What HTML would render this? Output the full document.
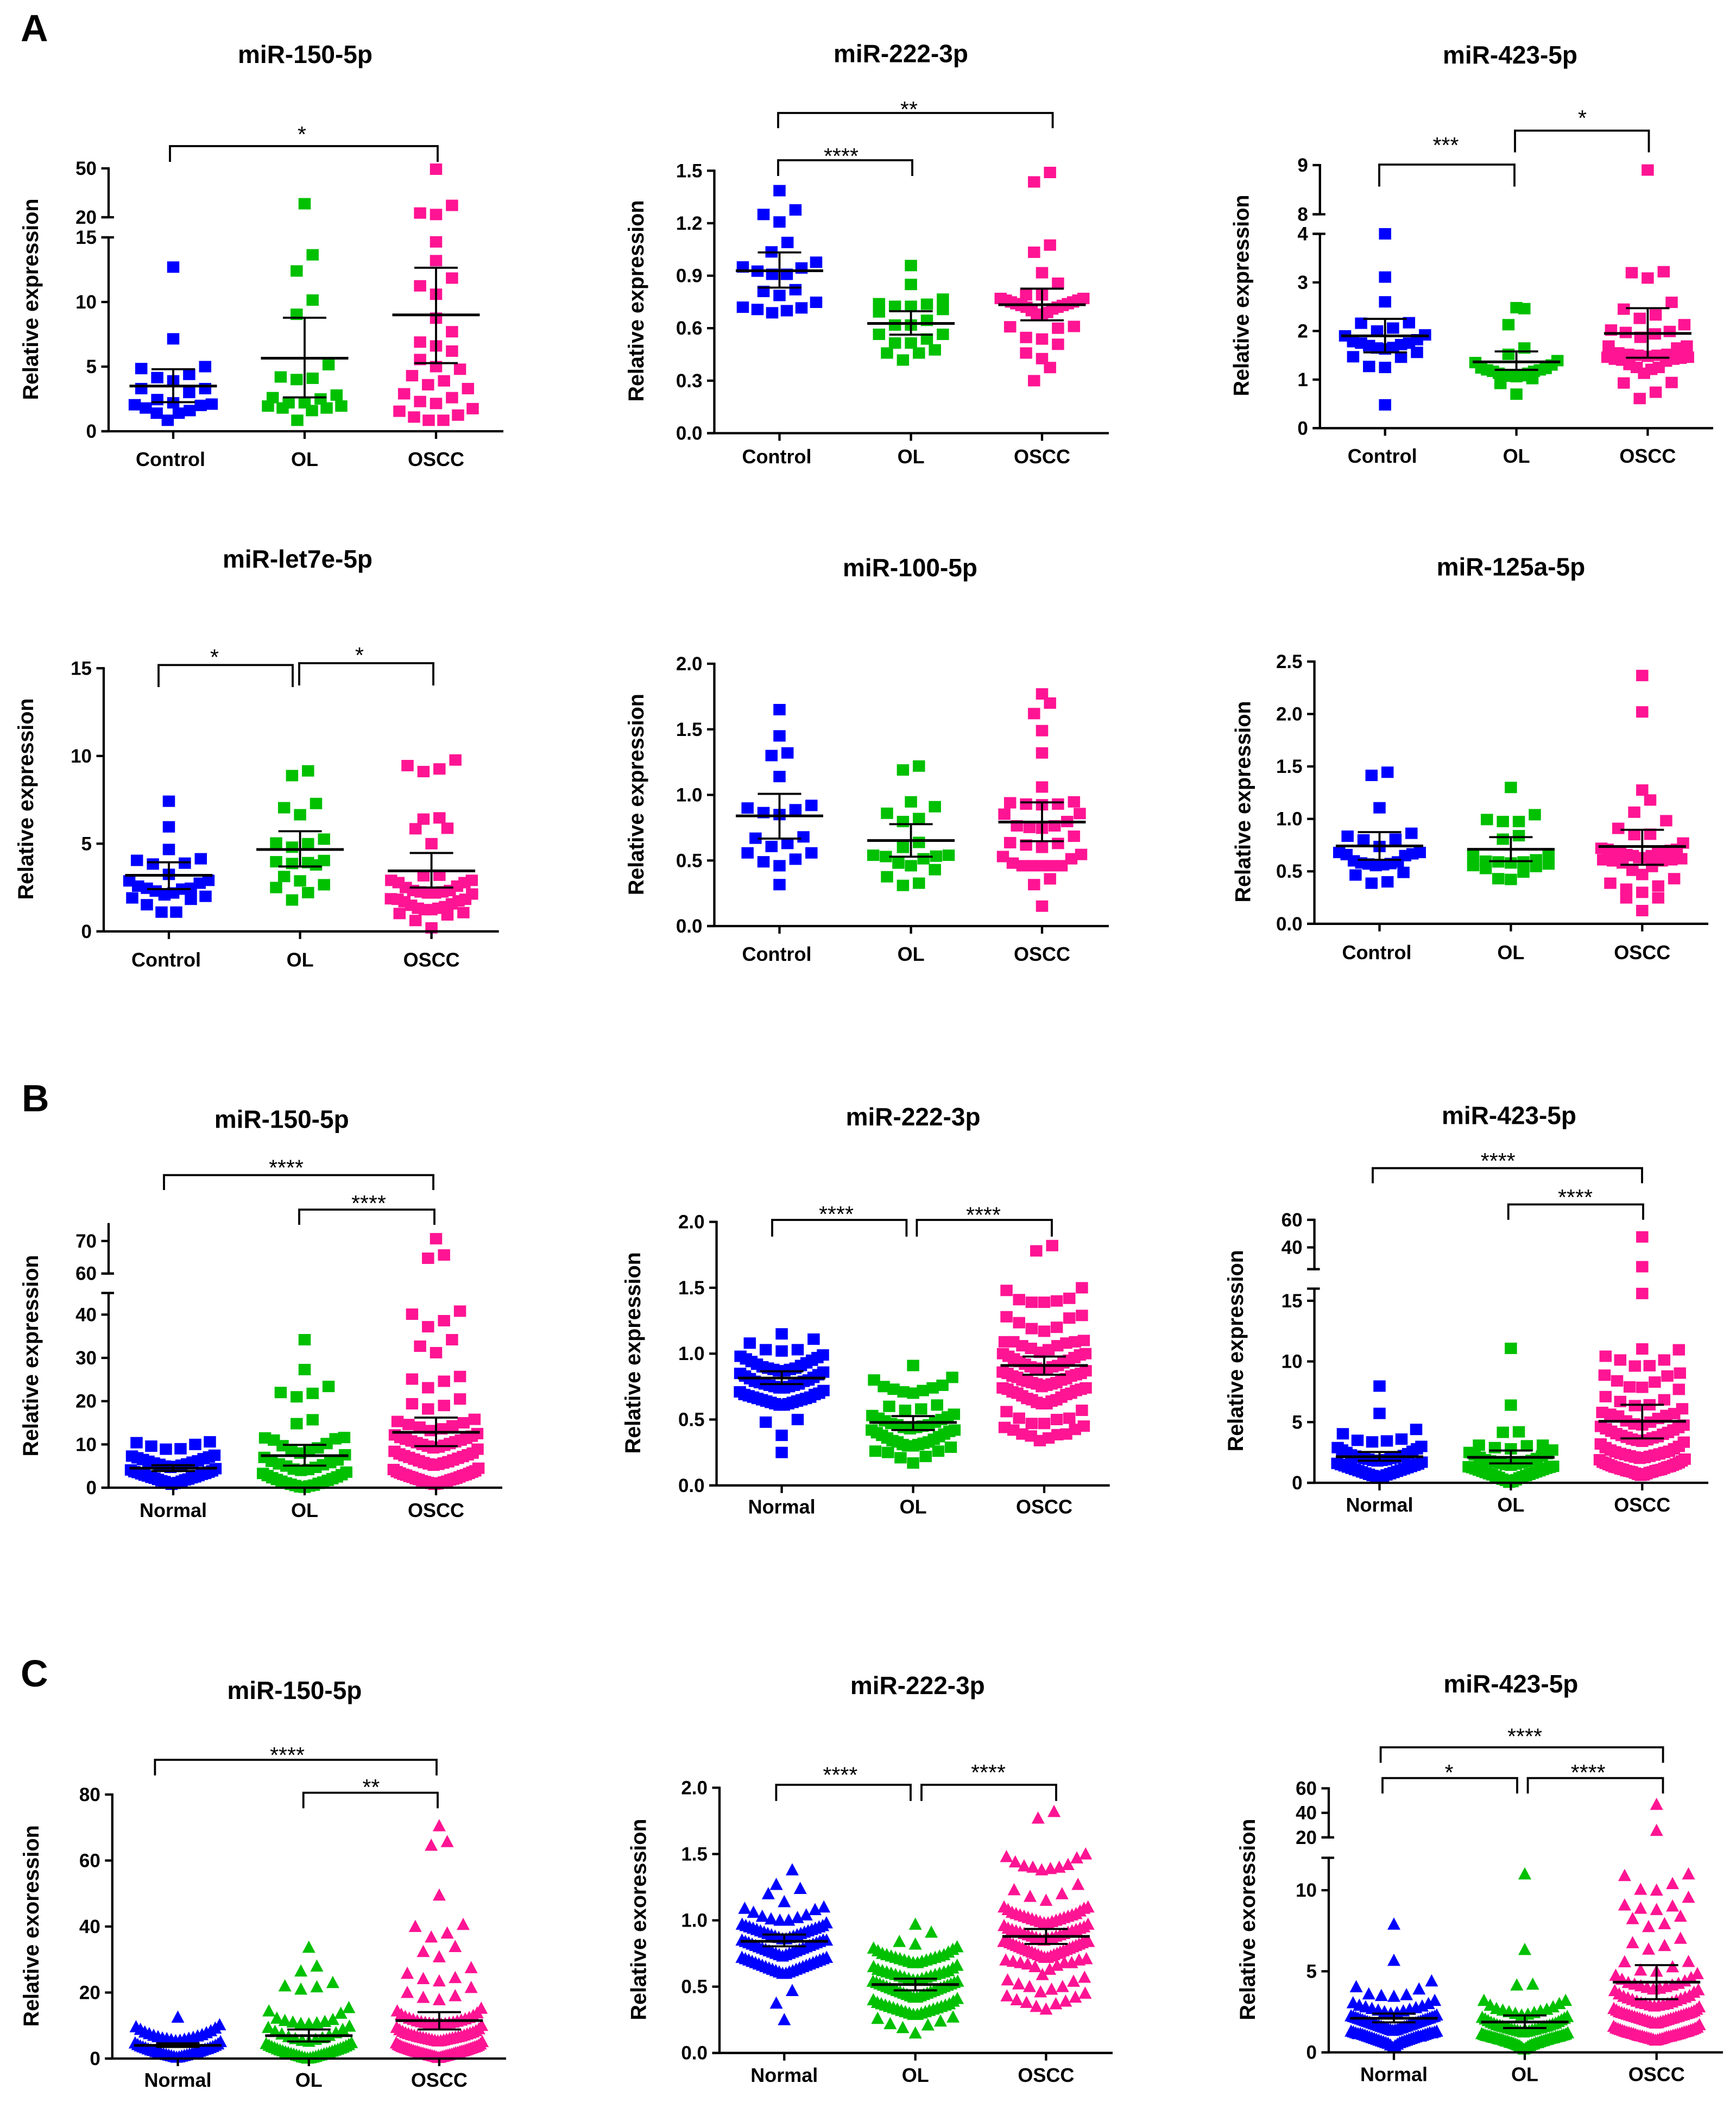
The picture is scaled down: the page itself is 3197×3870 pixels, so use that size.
<!DOCTYPE html>
<html>
<head>
<meta charset="utf-8">
<title>miRNA relative expression scatter plots</title>
<style>
html,body{margin:0;padding:0;background:#fff;}
svg{display:block;}
text{font-family:"Liberation Sans",Arial,sans-serif;fill:#000;}
.tick,.cat{font-weight:bold;font-size:35px;}
.cat{font-size:36px;}
.title{font-weight:bold;font-size:46px;}
.ylab{font-weight:bold;font-size:39.5px;}
.star{font-size:41px;}
.letter{font-weight:bold;font-size:70px;}
</style>
</head>
<body>
<svg id="figure" xmlns="http://www.w3.org/2000/svg" width="3197" height="3870" viewBox="0 0 3197 3870">
<rect width="3197" height="3870" fill="#fff"/>
<text class="letter" x="38" y="76">A</text>
<text class="letter" x="40" y="2046">B</text>
<text class="letter" x="38" y="3105">C</text>
</svg>
<script>
const catsControl = ['Control','OL','OSCC'];
const catsNormal = ['Normal','OL','OSCC'];

const a1TicksLow = [0,5,10,15];
const a1TicksHigh = [20,50];
const a1Control = [0.85,1.4,1.4,1.6,1.8,2.0,2.05,2.1,2.2,2.45,3.0,3.3,3.3,3.9,4.15,4.4,4.85,5.0,7.15,12.7];
const a1OL = [0.85,1.6,1.8,1.8,1.95,1.95,2.2,2.2,2.5,2.6,2.8,4.0,4.1,4.2,5.15,9.05,10.15,12.4,13.65,28.3];
const a1OSCC = [0.85,0.85,1.1,1.25,1.55,1.75,2.15,2.3,2.6,2.9,3.3,3.6,3.9,4.3,4.8,5.0,5.55,6.2,6.6,6.9,7.7,8.75,10.6,11.25,11.85,13.2,14.65,21.7,22.6,27.3,49.5];
const a1Mean = [3.5,5.65,9.0];
const a1Upper = [4.8,8.78,12.65];
const a1Lower = [2.25,2.62,5.27];

const a2Ticks = [0,0.3,0.6,0.9,1.2,1.5];
const a2Control = [0.688,0.70,0.707,0.716,0.72,0.748,0.787,0.81,0.82,0.908,0.908,0.926,0.944,0.95,0.977,1.036,1.09,1.207,1.25,1.276,1.386];
const a2OL = [0.418,0.458,0.458,0.476,0.515,0.515,0.538,0.565,0.565,0.618,0.618,0.645,0.693,0.707,0.725,0.725,0.74,0.737,0.766,0.85,0.958];
const a2OSCC = [0.30,0.375,0.426,0.458,0.508,0.538,0.547,0.60,0.608,0.61,0.68,0.68,0.69,0.70,0.71,0.72,0.72,0.73,0.73,0.74,0.74,0.75,0.75,0.76,0.76,0.77,0.77,0.79,0.79,0.857,0.917,1.034,1.075,1.436,1.49];
const a2Mean = [0.928,0.627,0.734];
const a2Upper = [1.033,0.697,0.826];
const a2Lower = [0.832,0.563,0.645];

const a3TicksLow = [0,1,2,3,4];
const a3TicksHigh = [8,9];
const a3Control = [0.48,1.25,1.27,1.46,1.47,1.56,1.63,1.65,1.66,1.7,1.72,1.75,1.75,1.78,1.82,1.9,1.92,2.0,2.06,2.16,2.17,2.6,3.11,4.0];
const a3OL = [0.7,0.92,1.02,1.06,1.07,1.08,1.1,1.13,1.13,1.17,1.17,1.2,1.2,1.23,1.24,1.3,1.35,1.39,1.52,1.65,2.13,2.46,2.48];
const a3OSCC = [0.61,0.74,0.93,0.94,1.13,1.21,1.25,1.25,1.31,1.38,1.4,1.42,1.42,1.44,1.46,1.46,1.48,1.5,1.5,1.52,1.52,1.55,1.65,1.69,1.69,1.87,1.94,1.97,1.99,2.02,2.13,2.26,2.33,2.45,2.59,3.09,3.2,3.22,8.9];
const a3Mean = [1.9,1.365,1.95];
const a3Upper = [2.25,1.58,2.47];
const a3Lower = [1.56,1.2,1.45];

const a4Ticks = [0,5,10,15];
const a4Control = [1.1,1.1,1.52,1.83,1.91,2.0,2.08,2.19,2.3,2.41,2.46,2.46,2.58,2.75,2.88,2.91,3.25,3.84,3.89,4.05,4.14,4.67,5.96,7.42];
const a4OL = [1.79,2.21,2.5,2.66,2.88,3.13,3.79,3.87,3.92,3.97,4.04,4.8,5.0,5.04,5.26,6.65,7.05,7.29,8.88,9.15];
const a4OSCC = [0.2,0.62,0.94,1.02,1.07,1.24,1.24,1.32,1.32,1.41,1.49,1.57,1.69,1.74,1.83,1.83,1.86,2.13,2.19,2.19,2.25,2.25,2.33,2.33,2.5,2.58,2.78,2.78,2.91,2.91,3.17,3.2,5.0,5.85,5.88,6.4,6.47,9.11,9.26,9.45,9.77];
const a4Mean = [3.2,4.67,3.45];
const a4Upper = [3.94,5.71,4.47];
const a4Lower = [2.41,3.7,2.5];

const a5Ticks = [0,0.5,1,1.5,2];
const a5Control = [0.316,0.46,0.49,0.51,0.558,0.558,0.607,0.63,0.67,0.68,0.85,0.865,0.887,0.9,0.92,1.14,1.3,1.32,1.45,1.65];
const a5OL = [0.31,0.327,0.376,0.43,0.46,0.48,0.513,0.53,0.533,0.54,0.54,0.6,0.638,0.797,0.82,0.86,0.91,0.947,1.19,1.22];
const a5OSCC = [0.152,0.316,0.36,0.46,0.46,0.46,0.46,0.46,0.48,0.513,0.53,0.546,0.6,0.618,0.63,0.636,0.685,0.746,0.752,0.764,0.764,0.797,0.853,0.858,0.925,0.93,0.93,0.94,0.947,1.06,1.32,1.49,1.62,1.7,1.77];
const a5Mean = [0.84,0.652,0.793];
const a5Upper = [1.008,0.777,0.943];
const a5Lower = [0.667,0.529,0.647];

const a6Ticks = [0,0.5,1,1.5,2,2.5];
const a6Control = [0.387,0.4,0.465,0.49,0.555,0.563,0.57,0.574,0.58,0.59,0.6,0.65,0.66,0.667,0.68,0.68,0.737,0.8,0.807,0.835,0.863,1.106,1.415,1.445];
const a6OL = [0.423,0.43,0.493,0.527,0.546,0.555,0.57,0.58,0.59,0.59,0.597,0.61,0.653,0.667,0.807,0.84,0.975,0.975,0.994,1.04,1.3];
const a6OSCC = [0.126,0.247,0.247,0.3,0.33,0.36,0.387,0.43,0.47,0.51,0.546,0.58,0.6,0.6,0.61,0.61,0.62,0.63,0.63,0.65,0.65,0.66,0.67,0.68,0.68,0.69,0.7,0.71,0.71,0.72,0.77,0.85,0.854,0.91,0.983,1.064,1.18,1.275,2.02,2.367];
const a6Mean = [0.742,0.71,0.737];
const a6Upper = [0.874,0.826,0.896];
const a6Lower = [0.61,0.597,0.563];

const b1TicksLow = [0,10,20,30,40];
const b1TicksHigh = [60,70];
const b1Normal = [0.8,1,1.1,1.2,1.4,1.5,1.6,1.8,1.9,2.0,2.2,2.3,2.4,2.5,2.7,2.8,2.9,3.1,3.2,3.3,3.5,3.6,3.7,3.9,4.1,4.4,4.7,4.9,5,5.2,5.4,5.5,5.7,5.9,6.1,6.2,6.5,6.7,6.9,7.1,7.3,7.5,8.9,9.0,9.6,10,10.4,10.6];
const b1OL = [0.1,0.2,0.4,0.5,0.6,0.8,1,1.1,1.3,1.5,1.7,1.9,2.1,2.3,2.5,2.8,3,3.3,3.6,4,4.2,4.3,4.7,5,5.3,5.5,5.8,6.1,6.4,7,7.6,8,8.4,8.8,9.2,9.7,10.2,11,11.3,11.5,11.6,14.8,15.7,21,21.8,22,23.4,27.3,34.2];
const b1OSCC = [0.8,0.9,1,1.1,1.2,1.3,1.4,1.5,1.6,1.8,1.9,2,2.1,2.2,2.4,2.5,2.6,2.8,2.9,3,3.1,3.3,3.4,3.6,3.7,3.9,4.2,4.5,5.2,5.4,5.5,5.7,5.8,6,6.2,6.4,6.6,6.8,7,7.2,7.4,7.6,7.8,8,8.4,8.9,9.2,9.4,9.6,9.8,10,10.2,10.4,10.6,10.8,11,11.2,11.4,11.6,11.9,12.2,12.5,13.2,13.6,14,14.3,14.6,15,15.3,15.8,18.2,19,19.4,20.5,23.1,24.6,25.1,25.7,31.2,32.7,34.2,37.2,38.6,40.1,40.8,64.7,65.7,70.7];
const b1Mean = [4.5,7.4,12.8];
const b1Upper = [5.2,9.9,16.2];
const b1Lower = [3.85,5.1,9.6];

const b2Ticks = [0,0.5,1,1.5,2];
const b2Normal = [0.25,0.38,0.48,0.5,0.61,0.61,0.62,0.62,0.63,0.63,0.64,0.64,0.65,0.65,0.66,0.66,0.67,0.67,0.68,0.69,0.69,0.7,0.71,0.72,0.74,0.74,0.75,0.75,0.76,0.76,0.77,0.77,0.78,0.79,0.79,0.8,0.81,0.82,0.83,0.84,0.85,0.86,0.87,0.87,0.88,0.88,0.89,0.89,0.9,0.91,0.92,0.93,0.94,0.95,0.96,0.97,0.98,0.99,1.02,1.03,1.03,1.08,1.11,1.15];
const b2OL = [0.17,0.21,0.22,0.25,0.26,0.26,0.29,0.3,0.3,0.31,0.31,0.32,0.33,0.33,0.34,0.35,0.36,0.37,0.38,0.39,0.4,0.41,0.42,0.42,0.43,0.44,0.44,0.45,0.46,0.46,0.47,0.48,0.49,0.5,0.51,0.52,0.53,0.54,0.57,0.58,0.6,0.61,0.7,0.71,0.72,0.73,0.74,0.75,0.76,0.8,0.82,0.91];
const b2OSCC = [0.34,0.36,0.375,0.385,0.39,0.39,0.42,0.425,0.44,0.45,0.47,0.47,0.5,0.51,0.51,0.56,0.57,0.62,0.62,0.63,0.64,0.65,0.65,0.66,0.67,0.68,0.69,0.7,0.7,0.71,0.72,0.73,0.73,0.74,0.74,0.75,0.76,0.77,0.77,0.78,0.78,0.79,0.8,0.8,0.81,0.82,0.83,0.83,0.84,0.85,0.85,0.86,0.87,0.88,0.88,0.89,0.9,0.9,0.91,0.92,0.93,0.94,0.95,0.96,0.97,0.98,0.99,1,1,1.01,1.03,1.04,1.06,1.06,1.08,1.09,1.09,1.09,1.1,1.17,1.19,1.2,1.235,1.27,1.28,1.29,1.39,1.39,1.4,1.41,1.42,1.48,1.5,1.78,1.82];
const b2Mean = [0.815,0.478,0.91];
const b2Upper = [0.866,0.526,0.978];
const b2Lower = [0.769,0.42,0.84];

const b3TicksLow = [0,5,10,15];
const b3TicksHigh = [40,60];
const b3Normal = [0.4,0.5,0.55,0.6,0.65,0.7,0.75,0.8,0.85,0.9,0.95,1,1.05,1.1,1.15,1.2,1.25,1.3,1.35,1.4,1.45,1.5,1.55,1.6,1.7,1.8,1.85,1.85,1.9,1.95,2,2,2.05,2.1,2.15,2.2,2.25,2.3,2.4,2.5,2.6,2.7,2.8,2.9,3.0,3.37,3.45,3.5,3.6,4.04,4.4,5.72,7.97];
const b3OL = [0.05,0.1,0.2,0.25,0.3,0.4,0.45,0.5,0.55,0.6,0.65,0.7,0.75,0.8,0.85,0.9,0.95,1,1.05,1.1,1.15,1.2,1.25,1.28,1.32,1.36,1.45,1.5,1.55,1.6,1.65,1.7,1.75,1.8,1.85,1.9,2,2.1,2.2,2.3,2.4,2.5,2.7,2.8,2.9,3.05,3.1,3.1,4.16,4.2,6.4,11.08];
const b3OSCC = [0.62,0.65,0.7,0.75,0.8,0.85,0.9,0.9,0.95,1,1,1.05,1.1,1.1,1.15,1.2,1.25,1.3,1.3,1.35,1.4,1.45,1.5,1.55,1.6,1.65,1.7,1.8,1.9,1.95,2.02,2.08,2.12,2.18,2.22,2.28,2.32,2.38,2.42,2.5,2.55,2.6,2.7,2.8,2.9,3,3.2,3.35,3.42,3.5,3.55,3.6,3.7,3.75,3.8,3.9,4,4.05,4.15,4.25,4.35,4.45,4.55,4.65,4.75,4.77,4.85,5,5.1,5.3,5.5,5.55,5.65,5.7,5.8,6.1,6.36,6.43,6.7,6.84,7.1,7.7,7.87,7.9,8.3,8.4,8.8,8.87,9.04,9.62,9.65,10.12,10.12,10.43,10.96,11.03,15.6,26,47.6];
const b3Mean = [2.15,2.1,5.07];
const b3Upper = [2.54,2.66,6.43];
const b3Lower = [1.82,1.6,3.66];

const c1Ticks = [0,20,40,60,80];
const c1Normal = [0.4,0.5,0.6,0.7,0.8,0.9,1,1.1,1.2,1.3,1.4,1.5,1.6,1.8,1.9,2,2.1,2.2,2.4,2.5,2.6,2.8,2.9,3,3.2,3.3,3.5,3.6,3.8,4,4.2,4.4,4.7,5.1,5.4,5.5,5.7,5.8,6,6.1,6.2,6.4,6.6,6.8,7,7.2,7.5,7.8,8,8.4,8.8,9.2,9.6,10.2,12.5];
const c1OL = [0.1,0.2,0.3,0.4,0.5,0.6,0.8,0.9,1,1.1,1.3,1.4,1.5,1.6,1.8,1.9,2,2.2,2.3,2.5,2.6,2.8,2.9,3.1,3.3,3.4,3.6,3.8,4,4.2,4.5,4.8,5.2,5.5,5.8,6,6.3,6.6,7,7.4,7.8,8.2,8.8,9.4,9.8,10.5,10.6,10.8,11,11.2,11.5,11.8,12.2,13.7,14.4,15.4,21,21.7,22,23,26.5,28,33.7];
const c1OSCC = [0.3,0.4,0.5,0.6,0.7,0.7,0.8,0.9,1,1,1.1,1.2,1.3,1.3,1.4,1.5,1.6,1.7,1.7,1.8,1.9,2,2.1,2.2,2.2,2.3,2.4,2.5,2.6,2.7,2.8,2.9,3,3.1,3.2,3.3,3.4,3.5,3.6,3.7,3.9,4,4.2,4.4,4.7,5.1,5.3,5.4,5.5,5.6,5.7,5.8,5.9,6,6.1,6.2,6.3,6.4,6.5,6.6,6.7,6.8,7,7.1,7.2,7.4,7.5,7.7,7.8,8,8.2,8.4,8.7,9,9.4,10,10.3,10.4,10.5,10.6,10.7,10.8,10.9,11,11.1,11.3,11.4,11.6,11.8,12,12.2,12.4,12.7,13,13.4,13.8,14.4,15.2,17.8,18.5,19,20,21.5,23.5,24.2,24.5,25.8,27.5,30.8,32.4,33.9,36.8,38,40,40.6,49.5,64.6,65.7,70.5];
const c1Mean = [4.0,6.94,11.5];
const c1Upper = [4.6,8.8,14.06];
const c1Lower = [3.5,5.16,8.8];

const c2Ticks = [0,0.5,1,1.5,2];
const c2Normal = [0.25,0.375,0.47,0.6,0.6,0.61,0.61,0.62,0.62,0.63,0.63,0.64,0.64,0.65,0.65,0.66,0.66,0.67,0.67,0.68,0.68,0.69,0.69,0.7,0.7,0.71,0.71,0.72,0.72,0.73,0.74,0.74,0.75,0.75,0.76,0.76,0.77,0.77,0.78,0.78,0.79,0.79,0.8,0.8,0.81,0.81,0.82,0.82,0.83,0.83,0.84,0.84,0.85,0.85,0.85,0.86,0.86,0.87,0.87,0.88,0.88,0.89,0.89,0.9,0.9,0.91,0.91,0.92,0.92,0.93,0.93,0.94,0.94,0.95,0.95,0.96,0.96,0.97,0.98,1,1,1.01,1.02,1.03,1.04,1.06,1.08,1.09,1.1,1.14,1.2,1.24,1.27,1.38];
const c2OL = [0.15,0.19,0.21,0.22,0.24,0.26,0.27,0.29,0.29,0.3,0.3,0.31,0.31,0.32,0.32,0.33,0.33,0.34,0.34,0.35,0.35,0.36,0.36,0.37,0.37,0.38,0.39,0.4,0.41,0.42,0.42,0.43,0.43,0.44,0.44,0.45,0.45,0.46,0.46,0.47,0.47,0.48,0.48,0.49,0.49,0.5,0.5,0.51,0.51,0.52,0.52,0.53,0.53,0.54,0.54,0.55,0.55,0.56,0.56,0.57,0.57,0.58,0.58,0.59,0.59,0.6,0.6,0.61,0.61,0.62,0.62,0.63,0.64,0.65,0.66,0.68,0.68,0.69,0.69,0.7,0.7,0.71,0.71,0.72,0.72,0.73,0.73,0.74,0.74,0.75,0.76,0.77,0.78,0.79,0.8,0.82,0.84,0.91,0.97];
const c2OSCC = [0.33,0.35,0.37,0.38,0.39,0.4,0.42,0.43,0.45,0.46,0.48,0.5,0.5,0.52,0.54,0.55,0.57,0.59,0.63,0.65,0.66,0.67,0.68,0.68,0.68,0.69,0.7,0.7,0.71,0.72,0.72,0.73,0.73,0.74,0.74,0.75,0.75,0.76,0.76,0.77,0.77,0.78,0.78,0.79,0.79,0.8,0.8,0.81,0.81,0.82,0.82,0.83,0.83,0.84,0.84,0.84,0.84,0.85,0.86,0.86,0.87,0.87,0.88,0.88,0.89,0.89,0.9,0.9,0.91,0.91,0.92,0.92,0.93,0.93,0.94,0.94,0.95,0.96,0.97,0.98,0.98,0.99,0.99,1,1,1.01,1.01,1.02,1.02,1.03,1.03,1.04,1.04,1.05,1.05,1.06,1.07,1.08,1.09,1.1,1.1,1.15,1.18,1.2,1.23,1.27,1.38,1.39,1.4,1.4,1.41,1.42,1.44,1.47,1.48,1.5,1.77,1.82];
const c2Mean = [0.842,0.516,0.879];
const c2Upper = [0.893,0.56,0.935];
const c2Lower = [0.804,0.472,0.822];

const c3TicksLow = [0,5,10];
const c3TicksHigh = [20,40,60];
const c3Normal = [0.3,0.4,0.45,0.5,0.55,0.6,0.6,0.65,0.65,0.7,0.7,0.75,0.75,0.8,0.8,0.85,0.85,0.9,0.9,0.95,0.95,1,1,1,1.05,1.05,1.1,1.1,1.15,1.15,1.15,1.2,1.2,1.2,1.25,1.25,1.3,1.3,1.35,1.38,1.4,1.42,1.45,1.48,1.5,1.52,1.55,1.58,1.6,1.62,1.65,1.68,1.7,1.72,1.75,1.78,1.8,1.82,1.85,1.88,1.9,1.92,1.95,1.98,2,2.02,2.05,2.08,2.1,2.12,2.15,2.18,2.2,2.22,2.25,2.3,2.4,2.45,2.5,2.55,2.6,2.65,2.7,2.75,2.8,2.85,2.9,3,3.05,3.2,3.45,3.5,3.55,3.6,3.9,4.04,4.4,5.67,7.9];
const c3OL = [0.2,0.25,0.3,0.35,0.4,0.42,0.45,0.48,0.5,0.52,0.55,0.58,0.6,0.6,0.62,0.65,0.68,0.7,0.7,0.72,0.75,0.78,0.8,0.8,0.82,0.85,0.85,0.88,0.9,0.9,0.92,0.95,0.95,0.98,1,1,1.02,1.05,1.05,1.08,1.1,1.12,1.15,1.2,1.25,1.28,1.3,1.32,1.35,1.38,1.4,1.42,1.45,1.48,1.5,1.52,1.55,1.58,1.6,1.62,1.65,1.68,1.7,1.75,1.78,1.8,1.85,1.9,1.95,2,2.05,2.1,2.15,2.2,2.3,2.35,2.4,2.45,2.5,2.55,2.6,2.65,2.7,2.8,2.9,3,3.2,3.2,4.15,4.2,6.34,11];
const c3OSCC = [0.75,0.78,0.8,0.82,0.85,0.85,0.88,0.9,0.92,0.95,0.95,0.98,1,1,1.02,1.05,1.05,1.08,1.1,1.12,1.15,1.15,1.18,1.2,1.22,1.25,1.25,1.28,1.3,1.32,1.35,1.38,1.4,1.42,1.45,1.48,1.5,1.55,1.6,1.7,1.8,1.82,1.85,1.88,1.9,1.92,1.95,1.98,2,2.02,2.05,2.08,2.1,2.12,2.15,2.18,2.2,2.22,2.25,2.28,2.3,2.32,2.35,2.38,2.4,2.42,2.45,2.48,2.5,2.55,2.6,2.65,2.7,2.8,2.85,2.9,2.92,2.95,3,3,3.05,3.1,3.15,3.2,3.25,3.3,3.35,3.4,3.45,3.5,3.6,3.7,3.8,3.85,3.9,3.95,4,4.05,4.1,4.15,4.2,4.25,4.3,4.4,4.5,4.6,4.75,4.85,5,5.07,5.27,5.58,5.6,6.36,6.58,6.76,7.03,7.75,7.93,8.24,8.39,8.8,8.88,9.02,9.08,9.56,10,10.05,10.4,10.9,11,25.6,46.8];
const c3Mean = [2.1,1.87,4.33];
const c3Upper = [2.39,2.28,5.38];
const c3Lower = [1.85,1.5,3.28];

/* layout only: pixel geometry of each panel, separate from the values above */
const YLAB = 'Relative expression';
const YLAB2 = 'Relative exoression';
const charts = [
 {id:'a1',title:'miR-150-5p',tx:562,ty:116,ylab:YLAB,lx:70,ly:551,ax:200,axR:927,cx:[319,561,803],catY:858,cats:catsControl,marker:'square',dec:0,
  segs:[{d:[0,15],r:[794,437],ticks:a1TicksLow},{d:[20,50],r:[400,310],ticks:a1TicksHigh}],
  vals:[a1Control,a1OL,a1OSCC],mean:a1Mean,up:a1Upper,lo:a1Lower,
  br:[[313,806,269,298,556,237,'*']]},
 {id:'a2',title:'miR-222-3p',tx:1659,ty:114.5,ylab:YLAB,lx:1185,ly:554,ax:1315.5,axR:2042,cx:[1435.5,1677.6,1919],catY:853,cats:catsControl,marker:'square',dec:1,
  segs:[{d:[0,1.5],r:[797.5,314.3],ticks:a2Ticks}],
  vals:[a2Control,a2OL,a2OSCC],mean:a2Mean,up:a2Upper,lo:a2Lower,
  br:[[1433,1938.6,208,236,1674,191,'**'],[1433,1680,295,324,1549,277,'****']]},
 {id:'a3',title:'miR-423-5p',tx:2781,ty:117,ylab:YLAB,lx:2299.3,ly:544,ax:2430.8,axR:3155,cx:[2550.7,2792.6,3034.4],catY:852,cats:catsControl,marker:'square',dec:0,
  segs:[{d:[0,4],r:[788.3,430.5],ticks:a3TicksLow},{d:[8,9],r:[394.5,304],ticks:a3TicksHigh}],
  vals:[a3Control,a3OL,a3OSCC],mean:a3Mean,up:a3Upper,lo:a3Lower,
  br:[[2540,2789,303,343.5,2662.5,257,'***'],[2790,3036.5,240.5,280.5,2914,207,'*']]},
 {id:'a4',title:'miR-let7e-5p',tx:548,ty:1045,ylab:YLAB,lx:61,ly:1471,ax:191,axR:918.7,cx:[311,552.6,794.6],catY:1779.5,cats:catsControl,marker:'square',dec:0,
  segs:[{d:[0,15],r:[1714.8,1230.3],ticks:a4Ticks}],
  vals:[a4Control,a4OL,a4OSCC],mean:a4Mean,up:a4Upper,lo:a4Lower,
  br:[[292,539,1224.4,1265,395,1199.7,'*'],[551,798,1221,1262,662,1196,'*']]},
 {id:'a5',title:'miR-100-5p',tx:1676,ty:1061,ylab:YLAB,lx:1185,ly:1462.6,ax:1315.5,axR:2042,cx:[1435.5,1677.6,1919],catY:1769,cats:catsControl,marker:'square',dec:1,
  segs:[{d:[0,2],r:[1705,1222],ticks:a5Ticks}],
  vals:[a5Control,a5OL,a5OSCC],mean:a5Mean,up:a5Upper,lo:a5Lower,br:[]},
 {id:'a6',title:'miR-125a-5p',tx:2782.4,ty:1059.5,ylab:YLAB,lx:2302.7,ly:1476,ax:2420.6,axR:3146,cx:[2540.5,2782.4,3024.3],catY:1766,cats:catsControl,marker:'square',dec:1,
  segs:[{d:[0,2.5],r:[1700.8,1218],ticks:a6Ticks}],
  vals:[a6Control,a6OL,a6OSCC],mean:a6Mean,up:a6Upper,lo:a6Lower,br:[]},
 {id:'b1',title:'miR-150-5p',tx:518.7,ty:2076.4,ylab:YLAB,lx:70,ly:2496,ax:200,axR:925,cx:[319,561,803],catY:2793,cats:catsNormal,marker:'square',dec:0,
  segs:[{d:[0,45],r:[2739,2380.5],ticks:b1TicksLow},{d:[60,70],r:[2344.7,2284.8],ticks:b1TicksHigh,top:2253.8}],
  vals:[b1Normal,b1OL,b1OSCC],mean:b1Mean,up:b1Upper,lo:b1Lower,
  br:[[302,798,2163.5,2191,527,2139.6,'****'],[551,800,2227,2255,679,2205,'****']]},
 {id:'b2',title:'miR-222-3p',tx:1681.6,ty:2072,ylab:YLAB,lx:1179,ly:2490.8,ax:1319.6,axR:2043.7,cx:[1439.6,1681.6,1923],catY:2786.5,cats:catsNormal,marker:'square',dec:1,
  segs:[{d:[0,2],r:[2734.8,2249.6],ticks:b2Ticks}],
  vals:[b2Normal,b2OL,b2OSCC],mean:b2Mean,up:b2Upper,lo:b2Lower,
  br:[[1422,1669.4,2246,2276.8,1540,2225,'****'],[1688.4,1937,2246,2276.8,1811,2226.7,'****']]},
 {id:'b3',title:'miR-423-5p',tx:2779,ty:2069.5,ylab:YLAB,lx:2289,ly:2486.8,ax:2420.6,axR:3146,cx:[2540.5,2782.4,3024.3],catY:2783,cats:catsNormal,marker:'square',dec:0,
  segs:[{d:[0,16],r:[2730,2372.5],ticks:b3TicksLow},{d:[24.2,60],r:[2336.7,2245.8],ticks:b3TicksHigh}],
  vals:[b3Normal,b3OL,b3OSCC],mean:b3Mean,up:b3Upper,lo:b3Lower,
  br:[[2528,3024,2150.7,2178.5,2758.7,2126.8,'****'],[2777.7,3026,2217.5,2245.8,2901,2194,'****']]},
 {id:'c1',title:'miR-150-5p',tx:542.4,ty:3128,ylab:YLAB2,lx:71,ly:3545.8,ax:206.8,axR:932,cx:[327.5,568.8,808.9],catY:3842,cats:catsNormal,marker:'triangle',dec:0,
  segs:[{d:[0,80],r:[3790,3303.9],ticks:c1Ticks}],
  vals:[c1Normal,c1OL,c1OSCC],mean:c1Mean,up:c1Upper,lo:c1Lower,
  br:[[285.4,804,3240,3268.7,529,3220.8,'****'],[558.7,806,3300.6,3329.3,683.4,3280.2,'**']]},
 {id:'c2',title:'miR-222-3p',tx:1689.8,ty:3119,ylab:YLAB2,lx:1189.4,ly:3534,ax:1325,axR:2049,cx:[1444.3,1685.7,1926.4],catY:3833,cats:catsNormal,marker:'triangle',dec:1,
  segs:[{d:[0,2],r:[3779.7,3291.4],ticks:c2Ticks}],
  vals:[c2Normal,c2OL,c2OSCC],mean:c2Mean,up:c2Upper,lo:c2Lower,
  br:[[1429.4,1677,3286,3315.8,1547.4,3257.5,'****'],[1697,1945,3286,3315.8,1820,3253,'****']]},
 {id:'c3',title:'miR-423-5p',tx:2782.4,ty:3116,ylab:YLAB2,lx:2311,ly:3534,ax:2447,axR:3173,cx:[2567,2808,3050.7],catY:3831.4,cats:catsNormal,marker:'triangle',dec:0,
  segs:[{d:[0,12],r:[3778.6,3420.4],ticks:c3TicksLow},{d:[20,60],r:[3382.8,3292.5],ticks:c3TicksHigh}],
  vals:[c3Normal,c3OL,c3OSCC],mean:c3Mean,up:c3Upper,lo:c3Lower,
  br:[[2542.6,3062.6,3217,3245.5,2808,3186.7,'****'],[2546,2794,3273.6,3302,2668.6,3253,'*'],[2813.6,3062.5,3273.6,3302,2924.7,3253,'****']]}
];

const colors = ['#0000ff','#00c000','#ff1493'];
const NS = 'http://www.w3.org/2000/svg';
const svg = document.getElementById('figure');
const ROW_H = 30, STEP_MAX = 29.4, ROW_W = 162, TICK = 13.5, MEAN_HALF = 80.5, CAP_HALF = 40;
const AXIS_W = 4.3, BRACKET_W = 3.8, MEAN_W = 5, ERR_W = 3.8;

function make(tag, parent, attrs) {
  const e = document.createElementNS(NS, tag);
  for (const k in attrs) e.setAttribute(k, attrs[k]);
  parent.appendChild(e);
  return e;
}
function line(parent, x1, y1, x2, y2, w) {
  return make('line', parent, {x1:x1, y1:y1, x2:x2, y2:y2, stroke:'#000', 'stroke-width':w});
}
function yScale(segs) {
  return function (v) {
    const s = (segs.length > 1 && v > segs[0].d[1]) ? segs[1] : segs[0];
    return s.r[0] + (v - s.d[0]) / (s.d[1] - s.d[0]) * (s.r[1] - s.r[0]);
  };
}
/* Prism-style swarm: ascending values grouped into rows, spread outward from the centre */
function swarm(values, center, y) {
  const ys = values.slice().sort(function (a, b) { return a - b; }).map(y);
  const rows = [];
  ys.forEach(function (py) {
    const r = rows[rows.length - 1];
    if (r && r[0] - py <= ROW_H) r.push(py); else rows.push([py]);
  });
  const out = [];
  rows.forEach(function (r) {
    const n = r.length, s = Math.min(STEP_MAX, ROW_W / n);
    r.forEach(function (py, i) {
      const side = i % 2 === 0 ? -1 : 1;
      let off;
      if (n % 2 === 1) off = i === 0 ? 0 : (i % 2 === 1 ? -1 : 1) * Math.ceil(i / 2) * s;
      else off = side * (Math.floor(i / 2) + 0.5) * s;
      out.push([center + off, py]);
    });
  });
  return out;
}

charts.forEach(function (c) {
  const y = yScale(c.segs);
  const g = make('g', svg, {});
  
  

  const title = make('text', g, {x:c.tx, y:c.ty, 'text-anchor':'middle', 'class':'title'});
  title.textContent = c.title;
  
  

  const yl = make('text', g, {transform:'translate(' + c.lx + ',' + c.ly + ') rotate(-90)', 'text-anchor':'middle', 'class':'ylab'});
  yl.textContent = c.ylab;
  
  

  /* points */
  c.vals.forEach(function (vals, k) {
    swarm(vals, c.cx[k], y).forEach(function (p) {
      let m;
      if (c.marker === 'square') {
        m = make('rect', g, {x:p[0] - 11.25, y:p[1] - 10.5, width:22.5, height:21, fill:colors[k]});
      } else {
        m = make('polygon', g, {points:(p[0]) + ',' + (p[1] - 12.5) + ' ' + (p[0] + 12) + ',' + (p[1] + 10) + ' ' + (p[0] - 12) + ',' + (p[1] + 10), fill:colors[k]});
      }
      
      
    });
  });

  /* mean and error bars */
  c.cx.forEach(function (x, k) {
    const ml = line(g, x - MEAN_HALF, y(c.mean[k]), x + MEAN_HALF, y(c.mean[k]), MEAN_W);
    
    
    const ev = line(g, x, y(c.up[k]), x, y(c.lo[k]), ERR_W);
    
    
    const eu = line(g, x - CAP_HALF, y(c.up[k]), x + CAP_HALF, y(c.up[k]), ERR_W);
    
    
    const el = line(g, x - CAP_HALF, y(c.lo[k]), x + CAP_HALF, y(c.lo[k]), ERR_W);
    
    
  });

  /* y axis segments */
  c.segs.forEach(function (s, si) {
    const top = s.top !== undefined ? s.top : s.r[1];
    const a = line(g, c.ax, s.r[0] + 2, c.ax, top - 2, AXIS_W);
    
    
    if (c.segs.length > 1) {
      const capV = si === 0 ? s.r[1] : s.r[0];
      const cap = line(g, c.ax - TICK, capV, c.ax + 10, capV, AXIS_W);
      
      
    }
    s.ticks.forEach(function (t) {
      const ty = y(t);
      const tk = line(g, c.ax - TICK, ty, c.ax, ty, AXIS_W);
      
      
      const lb = make('text', g, {x:c.ax - 22, y:ty + 12, 'text-anchor':'end', 'class':'tick'});
      lb.textContent = t.toFixed(c.dec);
      
      
    });
  });

  /* x axis */
  const y0 = c.segs[0].r[0];
  const xa = line(g, c.ax - TICK, y0, c.axR, y0, AXIS_W);
  
  
  c.cx.forEach(function (x, k) {
    const tk = line(g, x, y0, x, y0 + 14, AXIS_W);
    
    
    const lb = make('text', g, {x:x - (c.cats[k] === 'Control' ? 5 : 0), y:c.catY, 'text-anchor':'middle', 'class':'cat'});
    lb.textContent = c.cats[k];
    
    
  });

  /* significance brackets */
  c.br.forEach(function (b) {
    const p = make('path', g, {d:'M' + b[0] + ' ' + b[3] + 'V' + b[2] + 'H' + b[1] + 'V' + b[3], fill:'none', stroke:'#000', 'stroke-width':BRACKET_W});
    
    
    const st = make('text', g, {x:b[4], y:b[5] + 24, 'text-anchor':'middle', 'class':'star'});
    st.textContent = b[6];
    
    
  });
});
</script>
</body>
</html>
